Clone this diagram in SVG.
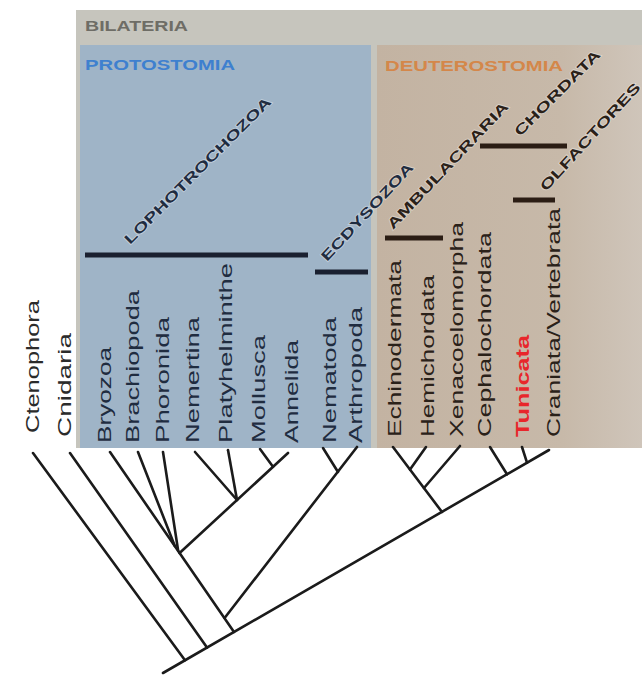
<svg xmlns="http://www.w3.org/2000/svg" width="642" height="676" viewBox="0 0 642 676">
<style>
.leaf{font-family:"Liberation Sans",Arial,sans-serif;font-size:19px}
.p{fill:#1f2c40}
.d{fill:#2a2119}
.o{fill:#2b2b2b}
.clade{font-family:"Liberation Sans",Arial,sans-serif;font-size:14px;font-weight:bold;stroke:#ffffff;stroke-opacity:0.35;stroke-width:1.6;paint-order:stroke}
.hdr{font-family:"Liberation Sans",Arial,sans-serif;font-size:15px;font-weight:bold}
.bar{stroke-width:5;stroke-linecap:butt}
.edge{stroke:#1b1b1b;stroke-width:2.6;fill:none;stroke-linecap:round}
</style>
<defs>
<linearGradient id="dg" x1="0" y1="0" x2="1" y2="0">
<stop offset="0" stop-color="#c3b3a2"/>
<stop offset="0.7" stop-color="#c7b9a9"/>
<stop offset="1" stop-color="#cfc5ba"/>
</linearGradient>
</defs>
<rect width="642" height="676" fill="#ffffff"/>
<g id="bilateria">
<rect x="76" y="10" width="566" height="438" fill="#c6c5bd"/>
<text class="hdr" x="85" y="31" fill="#6e6d66" textLength="103" lengthAdjust="spacingAndGlyphs">BILATERIA</text>
</g>
<g id="protostomia">
<rect x="80" y="45" width="291" height="403" fill="#9fb4c7"/>
<text class="hdr" x="85" y="70" fill="#3e80cf" textLength="150" lengthAdjust="spacingAndGlyphs">PROTOSTOMIA</text>
</g>
<g id="deuterostomia">
<rect x="377" y="45" width="265" height="403" fill="url(#dg)"/>
<text class="hdr" x="385" y="71" fill="#d4874a" textLength="178" lengthAdjust="spacingAndGlyphs">DEUTEROSTOMIA</text>
</g>
<g id="lophotrochozoa">
<line class="bar" x1="85" y1="255" x2="308" y2="255" stroke="#1a2030"/>
<text class="clade p" transform="translate(130,245) rotate(-45)" textLength="201" lengthAdjust="spacingAndGlyphs">LOPHOTROCHOZOA</text>
</g>
<g id="ecdysozoa">
<line class="bar" x1="315" y1="272" x2="368" y2="272" stroke="#1a2030"/>
<text class="clade p" transform="translate(327,262) rotate(-47)" textLength="128" lengthAdjust="spacingAndGlyphs">ECDYSOZOA</text>
</g>
<g id="ambulacraria">
<line class="bar" x1="385" y1="238" x2="443" y2="238" stroke="#2b1d14"/>
<text class="clade d" transform="translate(393,230) rotate(-46.5)" textLength="169" lengthAdjust="spacingAndGlyphs">AMBULACRARIA</text>
</g>
<g id="chordata">
<line class="bar" x1="480" y1="146" x2="567" y2="146" stroke="#2b1d14"/>
<text class="clade d" transform="translate(520,137) rotate(-45)" textLength="115" lengthAdjust="spacingAndGlyphs">CHORDATA</text>
</g>
<g id="olfactores">
<line class="bar" x1="513" y1="200" x2="555" y2="200" stroke="#2b1d14"/>
<text class="clade d" transform="translate(546,192) rotate(-47.5)" textLength="141" lengthAdjust="spacingAndGlyphs">OLFACTORES</text>
</g>
<g id="ctenophora"><text class="leaf o" transform="translate(39,433) rotate(-90)" textLength="133" lengthAdjust="spacingAndGlyphs">Ctenophora</text></g>
<g id="cnidaria"><text class="leaf o" transform="translate(71,437) rotate(-90)" textLength="104" lengthAdjust="spacingAndGlyphs">Cnidaria</text></g>
<g id="bryozoa"><text class="leaf p" transform="translate(111,443) rotate(-90)" textLength="96" lengthAdjust="spacingAndGlyphs">Bryozoa</text></g>
<g id="brachiopoda"><text class="leaf p" transform="translate(139,443) rotate(-90)" textLength="153" lengthAdjust="spacingAndGlyphs">Brachiopoda</text></g>
<g id="phoronida"><text class="leaf p" transform="translate(169,443) rotate(-90)" textLength="126" lengthAdjust="spacingAndGlyphs">Phoronida</text></g>
<g id="nemertina"><text class="leaf p" transform="translate(199,443) rotate(-90)" textLength="126" lengthAdjust="spacingAndGlyphs">Nemertina</text></g>
<g id="platyhelminthe"><text class="leaf p" transform="translate(232,443) rotate(-90)" textLength="180" lengthAdjust="spacingAndGlyphs">Platyhelminthe</text></g>
<g id="mollusca"><text class="leaf p" transform="translate(265,443) rotate(-90)" textLength="108" lengthAdjust="spacingAndGlyphs">Mollusca</text></g>
<g id="annelida"><text class="leaf p" transform="translate(298,443) rotate(-90)" textLength="103" lengthAdjust="spacingAndGlyphs">Annelida</text></g>
<g id="nematoda"><text class="leaf p" transform="translate(336,443) rotate(-90)" textLength="126" lengthAdjust="spacingAndGlyphs">Nematoda</text></g>
<g id="arthropoda"><text class="leaf p" transform="translate(362,443) rotate(-90)" textLength="136" lengthAdjust="spacingAndGlyphs">Arthropoda</text></g>
<g id="echinodermata"><text class="leaf d" transform="translate(401,437) rotate(-90)" textLength="177" lengthAdjust="spacingAndGlyphs">Echinodermata</text></g>
<g id="hemichordata"><text class="leaf d" transform="translate(434,437) rotate(-90)" textLength="162" lengthAdjust="spacingAndGlyphs">Hemichordata</text></g>
<g id="xenacoelomorpha"><text class="leaf d" transform="translate(463,437) rotate(-90)" textLength="215" lengthAdjust="spacingAndGlyphs">Xenacoelomorpha</text></g>
<g id="cephalochordata"><text class="leaf d" transform="translate(491,437) rotate(-90)" textLength="205" lengthAdjust="spacingAndGlyphs">Cephalochordata</text></g>
<g id="tunicata"><text class="leaf" font-weight="bold" fill="#e8262b" transform="translate(529,437) rotate(-90)" textLength="102" lengthAdjust="spacingAndGlyphs">Tunicata</text></g>
<g id="craniata"><text class="leaf d" transform="translate(560,437) rotate(-90)" textLength="229" lengthAdjust="spacingAndGlyphs">Craniata/Vertebrata</text></g>
<g id="connectors" class="edge">
<path d="M163,673 L549,450"/>
<path d="M33,453 L185,660.3"/>
<path d="M70,453 L207,647.6"/>
<path d="M110,452 L234,632"/>
<path d="M138,452 L174.8,546"/>
<path d="M163,452 L178.2,551"/>
<path d="M179.6,553 L288,453"/>
<path d="M195,452 L237,500"/>
<path d="M228,450 L237,500"/>
<path d="M260,449 L273,466.8"/>
<path d="M323,448 L338,472"/>
<path d="M357,447 L224.6,618"/>
<path d="M393,447 L442,512"/>
<path d="M426,447 L410,469.6"/>
<path d="M460,446 L424,488"/>
<path d="M490,447 L507,474.3"/>
<path d="M522,447 L527,462.7"/>
</g>
</svg>
